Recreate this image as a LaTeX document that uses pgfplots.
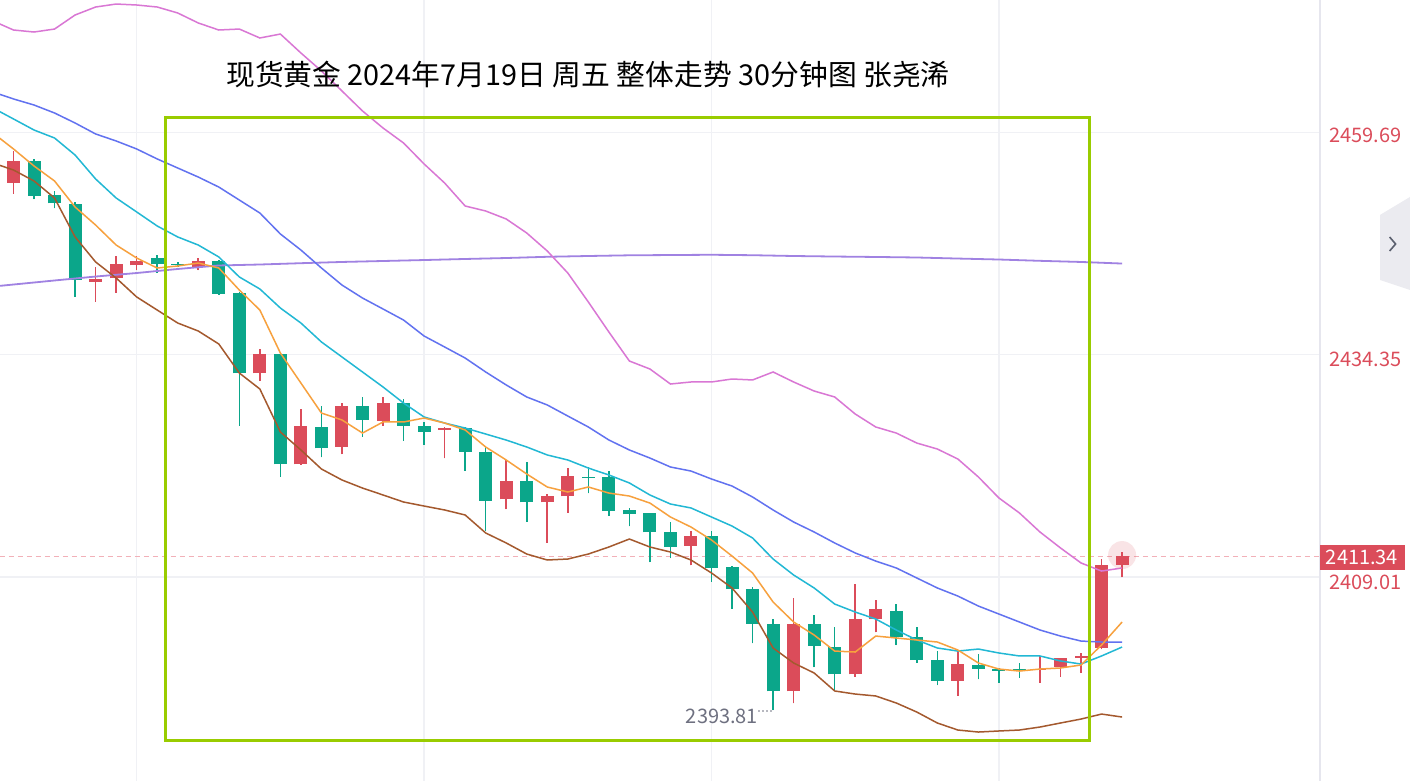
\documentclass[border=0pt]{standalone}
\usepackage{pgfplots}
\pgfplotsset{compat=1.18}
\usepackage{pgfplotstable}
\usepackage{fontspec}
\newfontfamily\cjk{Noto Sans CJK SC}
\definecolor{cred}{HTML}{DB4C5A}
\definecolor{cgreen}{HTML}{0BA68A}
\definecolor{corange}{HTML}{F7A13E}
\definecolor{ccyan}{HTML}{22B8D4}
\definecolor{cblue}{HTML}{6272F0}
\definecolor{cpurple}{HTML}{A082E2}
\definecolor{cpink}{HTML}{D977D4}
\definecolor{cbrown}{HTML}{A4592E}
\definecolor{cgrid}{HTML}{F0F1F5}
\definecolor{cbox}{HTML}{99CC00}
\definecolor{cdash}{HTML}{F2B0B8}
\definecolor{cborder}{HTML}{E6E6EE}
\definecolor{cgraytext}{HTML}{6E7080}
\definecolor{ctab}{HTML}{EBEBF0}
\definecolor{ctabtext}{HTML}{5A5F6E}

\pgfplotstableread{
i o h l c
0 2453.95 2457.59 2452.66 2456.45
4 2442.66 2444.37 2440.38 2442.93
5 2443.05 2445.59 2441.41 2444.68
6 2444.53 2445.59 2443.99 2445.02
9 2444.37 2445.40 2443.99 2444.99
12 2432.22 2434.99 2431.38 2434.42
14 2421.85 2428.12 2421.77 2426.21
16 2423.85 2428.80 2423.02 2428.46
18 2426.78 2429.48 2426.25 2428.80
21 2425.76 2426.10 2422.51 2426.04
24 2417.86 2422.34 2416.72 2419.91
26 2417.52 2418.46 2412.91 2418.20
27 2418.20 2421.42 2416.33 2420.55
33 2412.57 2414.28 2410.33 2413.71
38 2395.97 2406.57 2394.60 2403.64
41 2397.89 2408.24 2397.66 2404.16
42 2404.18 2406.38 2402.70 2405.35
46 2397.18 2400.68 2395.44 2399.05
50 2398.40 2400.03 2396.95 2398.51
51 2398.74 2399.82 2397.64 2399.73
52 2399.77 2400.37 2398.09 2400.00
53 2400.94 2411.02 2400.79 2410.37
54 2410.37 2411.85 2408.97 2411.34
}\up

\pgfplotstableread{
i o h l c
-1 2456.29 2456.50 2453.60 2453.91
1 2456.45 2456.61 2452.05 2452.43
2 2452.54 2453.03 2451.03 2451.60
3 2451.52 2451.78 2440.95 2442.85
7 2445.36 2445.70 2443.69 2444.68
8 2444.68 2444.87 2444.30 2444.53
10 2444.99 2445.13 2441.20 2441.29
11 2441.41 2441.54 2426.27 2432.22
13 2434.42 2434.53 2420.43 2421.85
15 2426.06 2428.49 2422.64 2423.67
17 2428.46 2429.48 2424.99 2426.90
19 2428.80 2429.29 2424.54 2426.25
20 2426.25 2426.70 2424.05 2425.56
22 2426.02 2426.10 2421.12 2423.28
23 2423.28 2423.97 2414.24 2417.70
25 2419.91 2422.11 2415.30 2417.52
28 2420.40 2421.57 2418.54 2420.28
29 2420.37 2421.08 2415.99 2416.52
30 2416.64 2416.83 2414.76 2416.15
31 2416.26 2416.29 2410.69 2414.10
32 2414.10 2415.25 2411.14 2412.40
34 2413.71 2414.28 2408.46 2410.03
35 2410.14 2410.25 2405.39 2407.63
36 2407.60 2407.89 2401.44 2403.68
37 2403.64 2404.21 2393.81 2395.97
39 2403.64 2404.67 2398.71 2401.14
40 2401.06 2403.34 2396.12 2397.91
43 2405.16 2405.89 2401.25 2402.13
44 2402.13 2403.27 2399.23 2399.54
45 2399.54 2400.60 2396.69 2397.18
47 2398.97 2400.22 2397.34 2398.55
48 2398.48 2398.66 2396.95 2398.32
49 2398.48 2399.16 2397.52 2398.32
}\down

\pgfplotstableread{
i orange cyan blue pink brown
-1 2459.61 2462.46 2464.28 2472.38 2456.19
0 2457.79 2461.21 2463.49 2471.35 2455.39
1 2455.85 2459.95 2462.80 2471.12 2454.14
2 2454.14 2459.04 2461.89 2471.46 2452.20
3 2451.17 2457.10 2460.75 2473.06 2447.76
4 2449.12 2454.37 2459.50 2473.97 2444.91
5 2446.84 2452.20 2458.70 2474.31 2443.08
6 2445.36 2450.61 2457.79 2474.20 2440.92
7 2444.22 2449.01 2456.65 2473.97 2439.43
8 2444.45 2447.76 2455.62 2473.29 2437.95
9 2444.79 2446.84 2454.59 2472.15 2437.04
10 2444.22 2445.48 2453.45 2471.35 2435.56
11 2441.71 2443.20 2451.97 2471.46 2432.25
12 2439.43 2441.83 2450.49 2470.44 2430.43
13 2434.53 2439.66 2448.10 2470.89 2425.53
14 2431.11 2437.95 2446.27 2468.73 2423.48
15 2427.69 2435.79 2444.22 2466.68 2421.31
16 2426.90 2434.08 2442.28 2464.40 2420.06
17 2425.41 2432.37 2440.80 2462.12 2419.14
18 2426.67 2430.66 2439.55 2460.18 2418.35
19 2426.67 2428.83 2438.29 2458.47 2417.55
20 2427.12 2427.24 2436.47 2456.08 2417.09
21 2426.55 2426.55 2435.22 2453.91 2416.64
22 2425.76 2425.98 2433.96 2451.29 2416.07
23 2423.82 2425.30 2432.37 2450.72 2414.02
24 2422.34 2424.61 2430.89 2449.81 2412.88
25 2420.74 2423.82 2429.52 2448.21 2411.62
26 2419.26 2422.91 2428.61 2446.16 2410.94
27 2418.69 2422.34 2427.35 2443.65 2411.05
28 2419.26 2421.42 2426.10 2440.35 2411.62
29 2418.57 2420.63 2424.62 2436.93 2412.42
30 2418.23 2419.72 2423.48 2433.62 2413.33
31 2417.43 2418.35 2422.56 2432.71 2412.42
32 2415.84 2417.32 2421.54 2431.00 2411.85
33 2414.70 2416.87 2421.08 2431.23 2410.94
34 2413.22 2415.84 2420.17 2431.23 2409.46
35 2411.39 2414.81 2419.37 2431.57 2407.75
36 2409.46 2413.45 2418.12 2431.46 2405.01
37 2406.15 2411.05 2416.64 2432.37 2400.91
38 2403.87 2409.23 2415.27 2431.23 2399.20
39 2402.39 2407.75 2414.13 2430.20 2398.06
40 2400.56 2405.92 2412.88 2429.52 2396.01
41 2400.45 2405.01 2411.74 2427.58 2395.66
42 2402.27 2404.21 2410.82 2426.10 2395.44
43 2402.05 2402.96 2410.03 2425.41 2394.64
44 2401.82 2401.82 2408.89 2424.27 2393.61
45 2401.59 2400.91 2407.75 2423.59 2392.36
46 2400.68 2400.56 2406.83 2422.45 2391.56
47 2399.20 2400.79 2405.69 2420.40 2391.33
48 2398.51 2400.34 2404.78 2418.01 2391.45
49 2398.28 2400.00 2403.87 2416.30 2391.56
50 2398.51 2400.00 2402.96 2414.13 2391.90
51 2398.63 2399.43 2402.27 2412.31 2392.36
52 2398.97 2399.08 2401.70 2410.60 2392.81
53 2401.25 2400.00 2401.59 2409.68 2393.38
54 2403.87 2401.02 2401.59 2410.03 2393.04
}\ma

\pgfplotstableread{
i p
-1 2442.11
0 2442.34
2 2442.80
4 2443.25
6 2443.65
8 2444.11
10 2444.51
12 2444.62
14 2444.77
16 2444.91
18 2445.02
20 2445.13
22 2445.25
24 2445.36
26 2445.50
28 2445.59
30 2445.67
32 2445.70
34 2445.73
36 2445.68
38 2445.59
40 2445.53
42 2445.48
44 2445.42
46 2445.30
48 2445.19
50 2445.04
52 2444.91
54 2444.73
}\malong

\pgfplotsset{candle/.style={only marks, mark=*, mark size=0pt, mark options={draw=none, fill=none}, forget plot,
  error bars/.cd, y dir=plus, y explicit, error mark=none}}

\begin{document}
\begin{tikzpicture}
\fill[white] (0pt,0pt) rectangle (705pt,390.5pt);
\path[use as bounding box] (0pt,0pt) rectangle (705pt,390.5pt);
\begin{axis}[
  at={(0pt,0pt)}, anchor=south west,
  scale only axis, width=660pt, height=390.5pt,
  xmin=-0.6576, xmax=63.64, ymin=2385.75, ymax=2474.77,
  axis line style={draw=none},
  major tick length=0pt,
  xtick={6,20,34,48}, ytick={2409.01,2434.35,2459.69},
  xticklabels={}, yticklabels={},
  grid=major, grid style={cgrid, line width=0.6pt},
  clip=true,
]
% dashed last price line
\draw[cdash, line width=0.6pt, dash pattern=on 2.5pt off 2pt] (axis cs:-0.66,2411.34) -- (axis cs:63.64,2411.34);
% wicks
\addplot[candle, error bar style={cred, line width=0.8pt}] table[x=i, y=l, y error plus expr=\thisrow{h}-\thisrow{l}] {\up};
\addplot[candle, error bar style={cgreen, line width=0.8pt}] table[x=i, y=l, y error plus expr=\thisrow{h}-\thisrow{l}] {\down};
% bodies
\addplot[candle, error bar style={cred, line width=6.5pt}] table[x=i, y=o, y error plus expr=\thisrow{c}-\thisrow{o}] {\up};
\addplot[candle, error bar style={cgreen, line width=6.5pt}] table[x=i, y=c, y error plus expr=\thisrow{o}-\thisrow{c}] {\down};
% moving averages and bands
\addplot[cpurple, line width=0.9pt, mark=none] table[x=i, y=p] {\malong};
\addplot[cpink, line width=0.75pt, mark=none] table[x=i, y=pink] {\ma};
\addplot[cblue, line width=0.75pt, mark=none] table[x=i, y=blue] {\ma};
\addplot[ccyan, line width=0.75pt, mark=none] table[x=i, y=cyan] {\ma};
\addplot[corange, line width=0.75pt, mark=none] table[x=i, y=orange] {\ma};
\addplot[cbrown, line width=0.75pt, mark=none] table[x=i, y=brown] {\ma};
% highlight box
\draw[cbox, line width=1.5pt] (axis cs:7.38,2461.43) rectangle (axis cs:52.39,2390.42);
% glow on last candle
\fill[cred, opacity=0.15] (axis cs:54,2411.5) circle[radius=7pt];
\end{axis}
% price axis border
\draw[cborder, line width=0.6pt] (660pt,0pt) -- (660pt,390.5pt);
% title
\node[font=\cjk\fontsize{14.4}{17}\selectfont, anchor=center, inner sep=0pt] at (294pt,353pt) {现货黄金 2024年7月19日 周五 整体走势 30分钟图 张尧浠};
% price labels
\node[font=\cjk\fontsize{10}{12}\selectfont, text=cred, anchor=west, inner sep=0pt] at (664.5pt,323pt) {2459.69};
\node[font=\cjk\fontsize{10}{12}\selectfont, text=cred, anchor=west, inner sep=0pt] at (664.5pt,211pt) {2434.35};
\node[font=\cjk\fontsize{10}{12}\selectfont, text=cred, anchor=west, inner sep=0pt] at (664.5pt,99.5pt) {2409.01};
\fill[cred] (660pt,105.5pt) rectangle (702.5pt,118pt);
\node[font=\cjk\fontsize{10}{12}\selectfont, text=white, anchor=center, inner sep=0pt] at (681pt,111.75pt) {2411.34};
% low label
\node[font=\cjk\fontsize{10}{12}\selectfont, text=cgraytext, anchor=center, inner sep=0pt] at (361pt,32.5pt) {2393.81};
\foreach \xx in {379.5,381.5,383.5,385.5} {\fill[cgraytext] (\xx pt,35pt) circle[radius=0.4pt];}
% side tab
\fill[ctab] (690pt,283pt) -- (705pt,292pt) -- (705pt,245.5pt) -- (690pt,250.5pt) -- cycle;
\draw[ctabtext, line width=0.8pt] (694.8pt,272pt) -- (697.8pt,268.5pt) -- (694.8pt,265pt);
\end{tikzpicture}
\end{document}
